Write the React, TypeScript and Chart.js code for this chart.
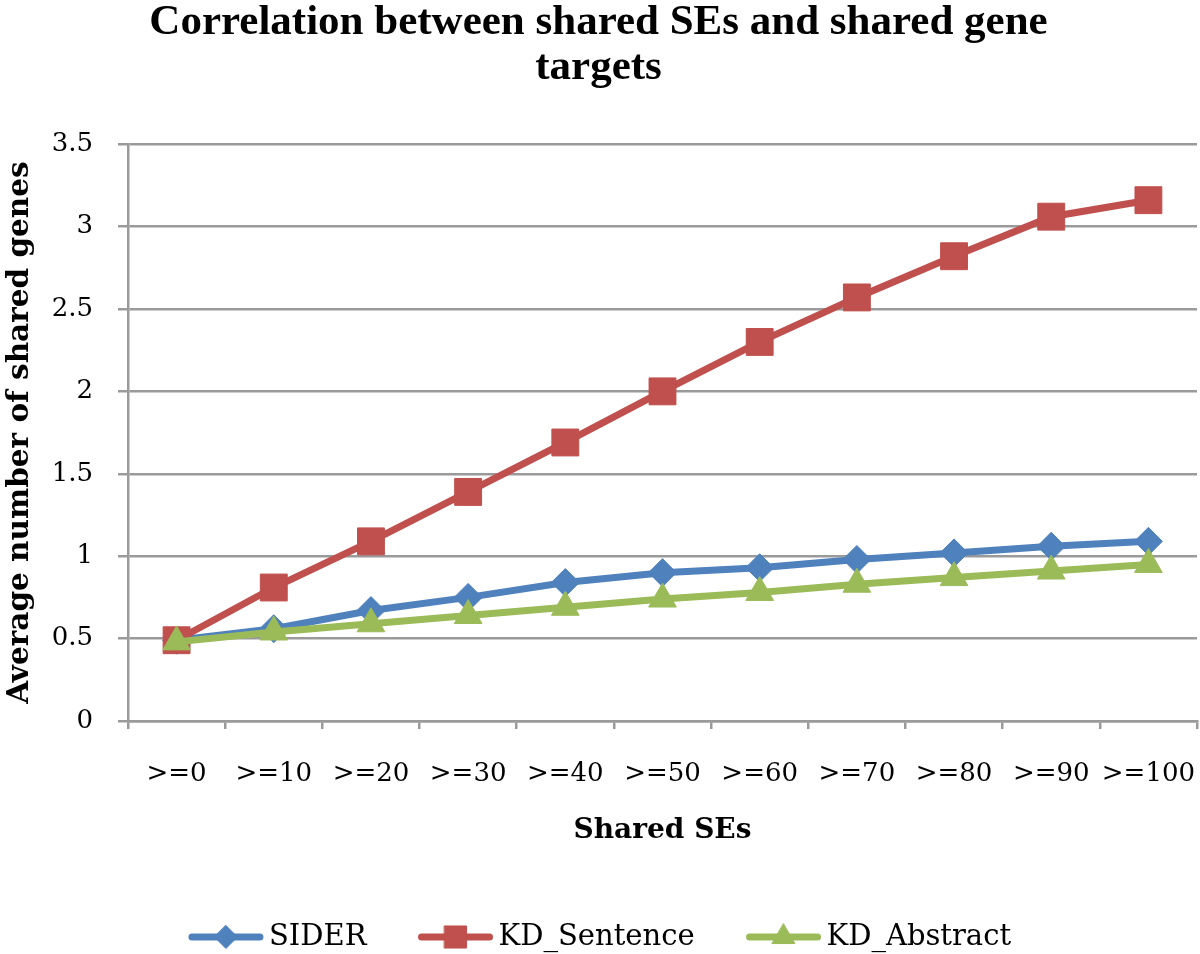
import React, { useEffect, useRef } from "react";
import { Chart, registerables } from "chart.js";

Chart.register(...registerables);

const TITLE_LINES = ["Correlation between shared SEs and shared gene", "targets"];
const X_TITLE = "Shared SEs";
const Y_TITLE = "Average number of shared genes";

const CATEGORIES = [">=0", ">=10", ">=20", ">=30", ">=40", ">=50", ">=60", ">=70", ">=80", ">=90", ">=100"];

const SIDER = [0.49, 0.56, 0.67, 0.75, 0.84, 0.9, 0.93, 0.98, 1.02, 1.06, 1.09];
const KD_SENTENCE = [0.49, 0.81, 1.09, 1.39, 1.69, 2.0, 2.3, 2.57, 2.82, 3.06, 3.16];
const KD_ABSTRACT = [0.48, 0.54, 0.59, 0.64, 0.69, 0.74, 0.78, 0.83, 0.87, 0.91, 0.95];

const SERIES_NAMES = ["SIDER", "KD_Sentence", "KD_Abstract"];
const COLORS = ["#4F81BD", "#C0504D", "#9BBB59"];
const MARKERS = ["rectRot", "rect", "triangle"];
const MARKER_RADIUS = [14, 19, 16];

const Y_MIN = 0;
const Y_MAX = 3.5;
const Y_STEP = 0.5;

const GRID = "#9a9a9a";

function drawMarker(ctx: CanvasRenderingContext2D, style: string, x: number, y: number, r: number) {
  ctx.beginPath();
  if (style === "rect") {
    const s = Math.SQRT1_2 * r;
    ctx.rect(x - s, y - s, 2 * s, 2 * s);
  } else if (style === "rectRot") {
    ctx.moveTo(x, y - r);
    ctx.lineTo(x + r, y);
    ctx.lineTo(x, y + r);
    ctx.lineTo(x - r, y);
    ctx.closePath();
  } else {
    ctx.moveTo(x, y - r);
    ctx.lineTo(x + Math.sin((2 * Math.PI) / 3) * r, y + r / 2);
    ctx.lineTo(x - Math.sin((2 * Math.PI) / 3) * r, y + r / 2);
    ctx.closePath();
  }
  ctx.fill();
  ctx.stroke();
}

const legendPlugin = {
  id: "lineMarkerLegend",
  afterDraw(chart: any) {
    const ctx = chart.ctx as CanvasRenderingContext2D;
    const idx = chart.data.datasets.map((_: any, i: number) => i);
    const font = "29px 'DejaVu Serif'";
    ctx.save();
    ctx.font = font;
    const lineLen = 74;
    const textGap = 6;
    const itemGap = 52;
    const widths = idx.map((i: number) => lineLen + textGap + ctx.measureText(SERIES_NAMES[i]).width);
    const total = widths.reduce((a: number, b: number) => a + b, 0) + itemGap * (widths.length - 1);
    let x = chart.width / 2 - total / 2;
    const y = 937;
    idx.forEach((i: number) => {
      const ds = chart.data.datasets[i];
      ctx.strokeStyle = ds.borderColor;
      ctx.lineWidth = 7;
      ctx.lineCap = "round";
      ctx.beginPath();
      ctx.moveTo(x + 3, y);
      ctx.lineTo(x + lineLen - 3, y);
      ctx.stroke();
      ctx.fillStyle = ds.pointBackgroundColor;
      ctx.strokeStyle = ds.pointBorderColor;
      ctx.lineWidth = 1;
      drawMarker(ctx, MARKERS[i], x + lineLen / 2, y, MARKER_RADIUS[i] * 0.82);
      ctx.fillStyle = "#000";
      ctx.textAlign = "left";
      ctx.textBaseline = "middle";
      ctx.font = font;
      ctx.fillText(SERIES_NAMES[i], x + lineLen + textGap, y);
      x += widths[i] + itemGap;
    });
    ctx.restore();
  },
};

export default function App() {
  const ref = useRef<HTMLCanvasElement | null>(null);

  useEffect(() => {
    if (!ref.current) return;
    const seriesValues = [SIDER, KD_SENTENCE, KD_ABSTRACT];
    const chart = new Chart(ref.current, {
      type: "line",
      data: {
        labels: CATEGORIES,
        datasets: seriesValues.map((vals, i) => ({
          label: SERIES_NAMES[i],
          data: vals,
          borderColor: COLORS[i],
          backgroundColor: COLORS[i],
          pointBackgroundColor: COLORS[i],
          pointBorderColor: COLORS[i],
          pointBorderWidth: 1,
          borderWidth: 7,
          pointStyle: MARKERS[i] as any,
          pointRadius: MARKER_RADIUS[i],
          pointHoverRadius: MARKER_RADIUS[i],
          tension: 0,
          fill: false,
          clip: false,
          order: 2 - i,
        })),
      },
      options: {
        responsive: false,
        animation: false,
        events: [],
        layout: { autoPadding: false, padding: { left: 0, right: 3, top: 0, bottom: 80 } },
        plugins: {
          legend: { display: false },
          tooltip: { enabled: false },
          title: {
            display: true,
            text: TITLE_LINES,
            color: "#000",
            font: { family: "'Liberation Serif'", size: 43, weight: "bold", lineHeight: 1.06 },
            padding: { top: 0, bottom: 53 },
          },
        },
        scales: {
          x: {
            type: "category",
            offset: true,
            grid: {
              display: true,
              drawOnChartArea: false,
              drawTicks: true,
              tickLength: 8,
              color: GRID,
              lineWidth: 2.5,
              offset: true,
            },
            border: { display: true, color: GRID, width: 2.5 },
            ticks: {
              color: "#000",
              font: { family: "'DejaVu Serif'", size: 26 },
              padding: 30,
              maxRotation: 0,
              autoSkip: false,
            },
            title: {
              display: true,
              text: X_TITLE,
              color: "#000",
              font: { family: "'DejaVu Serif'", size: 28, weight: "bold", lineHeight: 1.2 },
              padding: { top: 0, bottom: 26 },
            },
            afterFit: (s: any) => {
              s.height = 153;
              s.paddingLeft = 0;
              s.paddingRight = 0;
            },
          },
          y: {
            min: Y_MIN,
            max: Y_MAX,
            grid: {
              color: GRID,
              lineWidth: 2.5,
              drawTicks: true,
              tickLength: 10,
            },
            border: { display: true, color: GRID, width: 2.5 },
            ticks: {
              stepSize: Y_STEP,
              color: "#000",
              font: { family: "'DejaVu Serif'", size: 26 },
              padding: 25,
              callback: (v: any) => String(Number(v)),
            },
            title: {
              display: true,
              text: Y_TITLE,
              color: "#000",
              font: { family: "'DejaVu Serif'", size: 29.5, weight: "bold", lineHeight: 1.2 },
              padding: { top: 3, bottom: 0 },
            },
            afterFit: (s: any) => {
              s.width = 128;
              s.paddingTop = 0;
              s.paddingBottom = 0;
            },
          },
        },
      },
      plugins: [legendPlugin],
    } as any);
    return () => chart.destroy();
  }, []);

  return (
    <div style={{ position: "absolute", left: 0, top: 0, width: 1200, height: 954, background: "#fff" }}>
      <canvas ref={ref} width={1200} height={954} style={{ display: "block", width: 1200, height: 954 }} />
    </div>
  );
}
